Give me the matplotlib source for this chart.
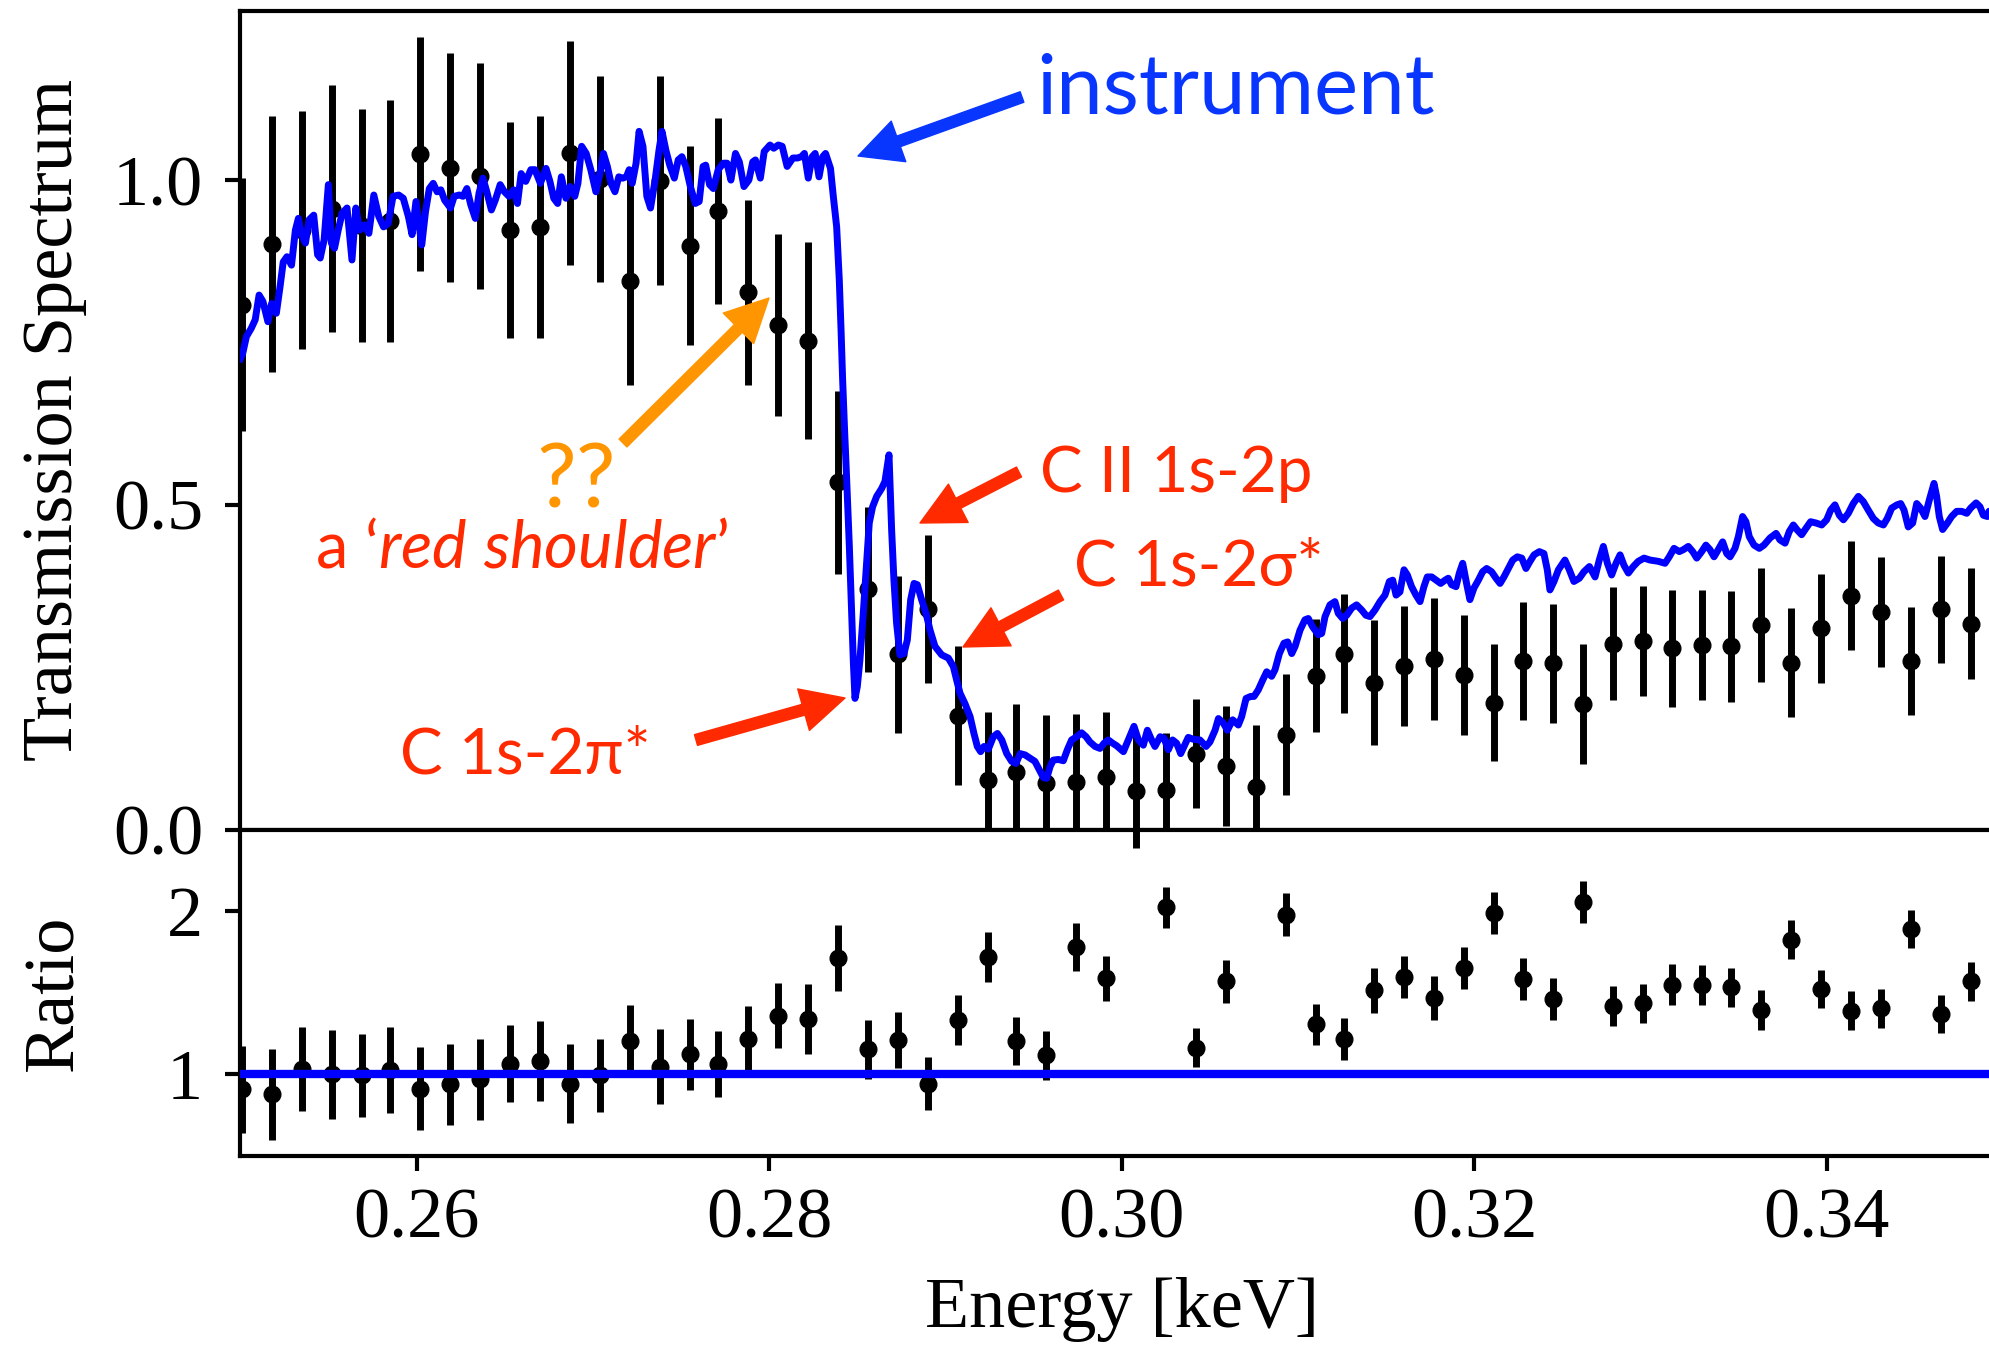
import matplotlib
matplotlib.use('Agg')
import matplotlib.pyplot as plt

plt.rcParams['font.family'] = ['Liberation Serif', 'DejaVu Serif']
plt.rcParams['mathtext.fontset'] = 'custom'
plt.rcParams['mathtext.it'] = 'Lato:italic'
plt.rcParams['mathtext.rm'] = 'Lato'

# ---------------- data ----------------
energy = [0.2501, 0.2518, 0.2535, 0.2552, 0.2569, 0.2585, 0.2602, 0.2619, 0.2636, 0.2653,
          0.2670, 0.2687, 0.2704, 0.2721, 0.2738, 0.2755, 0.2771, 0.2788, 0.2805, 0.2822,
          0.2839, 0.2856, 0.2873, 0.2890, 0.2907, 0.2924, 0.2940, 0.2957, 0.2974, 0.2991,
          0.3008, 0.3025, 0.3042, 0.3059, 0.3076, 0.3093, 0.3110, 0.3126, 0.3143, 0.3160,
          0.3177, 0.3194, 0.3211, 0.3228, 0.3245, 0.3262, 0.3279, 0.3296, 0.3312, 0.3329,
          0.3346, 0.3363, 0.3380, 0.3397, 0.3414, 0.3431, 0.3448, 0.3465, 0.3482]

trans = [0.808, 0.902, 0.923, 0.956, 0.930, 0.937, 1.040, 1.019, 1.007, 0.923,
         0.928, 1.042, 1.002, 0.844, 0.999, 0.899, 0.952, 0.827, 0.777, 0.753,
         0.535, 0.370, 0.270, 0.340, 0.175, 0.076, 0.089, 0.071, 0.074, 0.081,
         0.060, 0.061, 0.117, 0.098, 0.065, 0.146, 0.237, 0.271, 0.226, 0.252,
         0.263, 0.238, 0.195, 0.260, 0.256, 0.193, 0.286, 0.290, 0.279, 0.284,
         0.282, 0.315, 0.257, 0.310, 0.360, 0.335, 0.259, 0.339, 0.317]

trans_err = [0.195, 0.197, 0.183, 0.190, 0.180, 0.186, 0.180, 0.176, 0.174, 0.166,
             0.171, 0.172, 0.159, 0.159, 0.161, 0.153, 0.143, 0.143, 0.140, 0.151,
             0.141, 0.127, 0.121, 0.114, 0.107, 0.105, 0.104, 0.106, 0.104, 0.100,
             0.087, 0.088, 0.084, 0.092, 0.096, 0.093, 0.087, 0.091, 0.096, 0.092,
             0.094, 0.093, 0.090, 0.091, 0.092, 0.092, 0.087, 0.085, 0.090, 0.085,
             0.086, 0.087, 0.084, 0.084, 0.084, 0.084, 0.083, 0.083, 0.085]

ratio = [0.908, 0.877, 1.035, 1.000, 0.994, 1.027, 0.912, 0.939, 0.969, 1.066,
         1.082, 0.943, 0.994, 1.205, 1.047, 1.123, 1.062, 1.215, 1.358, 1.338,
         1.711, 1.154, 1.209, 0.943, 1.334, 1.721, 1.205, 1.117, 1.782, 1.590,
         2.600, 2.025, 1.164, 1.570, 2.850, 1.979, 1.307, 1.215, 1.516, 1.598,
         1.467, 1.652, 1.988, 1.584, 1.461, 2.055, 1.420, 1.435, 1.549, 1.547,
         1.533, 1.393, 1.826, 1.522, 1.389, 1.406, 1.891, 1.369, 1.570]

ratio_err = [0.266, 0.279, 0.258, 0.272, 0.256, 0.264, 0.253, 0.249, 0.246, 0.236,
             0.244, 0.243, 0.225, 0.223, 0.229, 0.217, 0.203, 0.202, 0.199, 0.214,
             0.203, 0.180, 0.172, 0.161, 0.151, 0.152, 0.148, 0.150, 0.146, 0.138,
             0.210, 0.125, 0.121, 0.131, 0.250, 0.132, 0.124, 0.129, 0.137, 0.130,
             0.133, 0.131, 0.129, 0.129, 0.130, 0.130, 0.124, 0.120, 0.125, 0.121,
             0.122, 0.122, 0.118, 0.118, 0.119, 0.119, 0.118, 0.118, 0.120]

model_energy = [
    0.25000, 0.25013, 0.25034, 0.25062, 0.25084, 0.25106, 0.25128, 0.25156, 0.25177, 0.25204,
    0.25225, 0.25243, 0.25264, 0.25290, 0.25312, 0.25329, 0.25347, 0.25369, 0.25390, 0.25416,
    0.25438, 0.25453, 0.25475, 0.25499, 0.25516, 0.25534, 0.25555, 0.25577, 0.25605, 0.25633,
    0.25655, 0.25677, 0.25703, 0.25729, 0.25757, 0.25785, 0.25812, 0.25838, 0.25866, 0.25898,
    0.25924, 0.25953, 0.25974, 0.25996, 0.26029, 0.26050, 0.26072, 0.26094, 0.26116, 0.26137,
    0.26159, 0.26192, 0.26213, 0.26242, 0.26263, 0.26285, 0.26307, 0.26333, 0.26354, 0.26376,
    0.26398, 0.26424, 0.26446, 0.26474, 0.26498, 0.26524, 0.26550, 0.26572, 0.26593, 0.26619,
    0.26648, 0.26671, 0.26702, 0.26734, 0.26756, 0.26778, 0.26800, 0.26821, 0.26847, 0.26871,
    0.26897, 0.26915, 0.26936, 0.26962, 0.26988, 0.27017, 0.27038, 0.27060, 0.27082, 0.27103,
    0.27125, 0.27147, 0.27169, 0.27190, 0.27206, 0.27223, 0.27245, 0.27262, 0.27284, 0.27306,
    0.27327, 0.27353, 0.27375, 0.27392, 0.27414, 0.27436, 0.27462, 0.27484, 0.27505, 0.27527,
    0.27553, 0.27581, 0.27603, 0.27625, 0.27640, 0.27662, 0.27683, 0.27711, 0.27740, 0.27761,
    0.27783, 0.27809, 0.27831, 0.27857, 0.27885, 0.27907, 0.27922, 0.27950, 0.27972, 0.28005,
    0.28026, 0.28052, 0.28074, 0.28102, 0.28135, 0.28161, 0.28183, 0.28200, 0.28222, 0.28244,
    0.28261, 0.28283, 0.28304, 0.28320, 0.28348, 0.28364, 0.28383, 0.28398, 0.28408, 0.28417,
    0.28428, 0.28440, 0.28455, 0.28468, 0.28478, 0.28487, 0.28500, 0.28515, 0.28534, 0.28553,
    0.28568, 0.28587, 0.28610, 0.28638, 0.28657, 0.28680, 0.28695, 0.28708, 0.28723, 0.28742,
    0.28765, 0.28784, 0.28803, 0.28822, 0.28841, 0.28865, 0.28890, 0.28913, 0.28941, 0.28979,
    0.29017, 0.29045, 0.29064, 0.29083, 0.29111, 0.29140, 0.29162, 0.29181, 0.29200, 0.29219,
    0.29244, 0.29272, 0.29295, 0.29320, 0.29348, 0.29376, 0.29401, 0.29424, 0.29452, 0.29480,
    0.29508, 0.29533, 0.29556, 0.29575, 0.29594, 0.29612, 0.29641, 0.29669, 0.29692, 0.29716,
    0.29745, 0.29773, 0.29798, 0.29820, 0.29849, 0.29877, 0.29900, 0.29924, 0.29949, 0.29972,
    0.30010, 0.30038, 0.30070, 0.30095, 0.30123, 0.30146, 0.30170, 0.30189, 0.30218, 0.30240,
    0.30265, 0.30289, 0.30312, 0.30335, 0.30354, 0.30378, 0.30407, 0.30444, 0.30479, 0.30501,
    0.30530, 0.30549, 0.30577, 0.30600, 0.30630, 0.30662, 0.30681, 0.30706, 0.30732, 0.30751,
    0.30775, 0.30800, 0.30823, 0.30851, 0.30870, 0.30895, 0.30921, 0.30942, 0.30965, 0.30984,
    0.31012, 0.31040, 0.31059, 0.31084, 0.31116, 0.31135, 0.31154, 0.31182, 0.31210, 0.31229,
    0.31254, 0.31277, 0.31305, 0.31333, 0.31362, 0.31386, 0.31409, 0.31437, 0.31466, 0.31494,
    0.31519, 0.31538, 0.31557, 0.31579, 0.31602, 0.31621, 0.31645, 0.31670, 0.31693, 0.31715,
    0.31734, 0.31759, 0.31784, 0.31810, 0.31835, 0.31853, 0.31872, 0.31897, 0.31916, 0.31935,
    0.31957, 0.31976, 0.31999, 0.32024, 0.32048, 0.32071, 0.32099, 0.32124, 0.32147, 0.32169,
    0.32194, 0.32219, 0.32245, 0.32270, 0.32294, 0.32317, 0.32340, 0.32370, 0.32396, 0.32415,
    0.32430, 0.32453, 0.32478, 0.32515, 0.32540, 0.32566, 0.32597, 0.32623, 0.32654, 0.32686,
    0.32710, 0.32733, 0.32756, 0.32780, 0.32805, 0.32828, 0.32850, 0.32875, 0.32903, 0.32931,
    0.32964, 0.32998, 0.33045, 0.33083, 0.33107, 0.33134, 0.33164, 0.33187, 0.33215, 0.33240,
    0.33263, 0.33291, 0.33315, 0.33338, 0.33361, 0.33385, 0.33410, 0.33433, 0.33452, 0.33480,
    0.33499, 0.33523, 0.33542, 0.33561, 0.33588, 0.33618, 0.33644, 0.33679, 0.33713, 0.33735,
    0.33764, 0.33788, 0.33811, 0.33834, 0.33858, 0.33883, 0.33909, 0.33940, 0.33972, 0.34000,
    0.34023, 0.34047, 0.34072, 0.34095, 0.34123, 0.34151, 0.34180, 0.34208, 0.34236, 0.34265,
    0.34293, 0.34322, 0.34344, 0.34369, 0.34399, 0.34420, 0.34439, 0.34463, 0.34488, 0.34511,
    0.34533, 0.34558, 0.34583, 0.34609, 0.34624, 0.34639, 0.34658, 0.34685, 0.34709, 0.34738,
    0.34766, 0.34795, 0.34817, 0.34848, 0.34870, 0.34889, 0.34912, 0.34921, 0.34950]

model_trans = [
    0.725, 0.733, 0.759, 0.772, 0.785, 0.823, 0.813, 0.782, 0.810, 0.795,
    0.836, 0.874, 0.882, 0.869, 0.923, 0.941, 0.916, 0.903, 0.939, 0.946,
    0.885, 0.880, 0.908, 0.993, 0.903, 0.895, 0.923, 0.949, 0.957, 0.877,
    0.957, 0.923, 0.931, 0.918, 0.977, 0.944, 0.928, 0.933, 0.975, 0.977,
    0.972, 0.944, 0.916, 0.967, 0.900, 0.951, 0.987, 0.995, 0.982, 0.985,
    0.969, 0.957, 0.975, 0.977, 0.975, 0.987, 0.962, 0.941, 0.980, 1.003,
    0.982, 0.954, 0.969, 0.993, 0.982, 0.975, 0.985, 0.964, 1.010, 0.998,
    1.016, 1.016, 0.995, 1.018, 0.998, 0.972, 0.964, 1.005, 0.972, 0.990,
    0.975, 0.995, 1.052, 1.041, 1.016, 0.982, 1.008, 1.041, 1.021, 0.995,
    0.982, 1.005, 1.003, 1.005, 1.016, 0.995, 1.026, 1.075, 1.052, 0.975,
    0.957, 1.000, 1.046, 1.075, 1.046, 1.023, 1.003, 1.031, 1.036, 1.021,
    0.990, 0.964, 0.967, 1.021, 1.023, 0.993, 0.987, 1.016, 1.026, 1.026,
    1.000, 1.041, 1.028, 0.990, 1.000, 1.028, 1.031, 1.003, 1.044, 1.054,
    1.049, 1.054, 1.052, 1.021, 1.034, 1.034, 1.036, 1.041, 1.003, 1.036,
    1.041, 1.005, 1.036, 1.041, 1.018, 0.975, 0.928, 0.846, 0.769, 0.692,
    0.615, 0.538, 0.436, 0.333, 0.256, 0.202, 0.220, 0.261, 0.333, 0.410,
    0.472, 0.497, 0.513, 0.525, 0.536, 0.577, 0.461, 0.384, 0.318, 0.269,
    0.271, 0.292, 0.354, 0.379, 0.377, 0.354, 0.333, 0.307, 0.282, 0.269,
    0.264, 0.251, 0.230, 0.210, 0.194, 0.174, 0.148, 0.128, 0.120, 0.128,
    0.124, 0.143, 0.148, 0.138, 0.117, 0.105, 0.102, 0.117, 0.115, 0.110,
    0.105, 0.092, 0.080, 0.079, 0.097, 0.107, 0.108, 0.106, 0.123, 0.138,
    0.143, 0.149, 0.143, 0.135, 0.128, 0.125, 0.133, 0.138, 0.133, 0.129,
    0.120, 0.138, 0.159, 0.138, 0.130, 0.153, 0.138, 0.128, 0.143, 0.141,
    0.123, 0.138, 0.133, 0.117, 0.128, 0.142, 0.139, 0.138, 0.128, 0.135,
    0.153, 0.171, 0.164, 0.153, 0.169, 0.161, 0.174, 0.202, 0.205, 0.205,
    0.215, 0.230, 0.243, 0.236, 0.246, 0.271, 0.287, 0.289, 0.271, 0.282,
    0.307, 0.323, 0.325, 0.312, 0.300, 0.302, 0.328, 0.346, 0.351, 0.333,
    0.325, 0.330, 0.341, 0.346, 0.338, 0.330, 0.328, 0.338, 0.351, 0.361,
    0.382, 0.384, 0.361, 0.366, 0.400, 0.392, 0.374, 0.361, 0.351, 0.374,
    0.389, 0.389, 0.384, 0.379, 0.384, 0.387, 0.377, 0.374, 0.395, 0.410,
    0.379, 0.354, 0.372, 0.384, 0.397, 0.402, 0.397, 0.387, 0.379, 0.389,
    0.402, 0.415, 0.420, 0.418, 0.402, 0.413, 0.423, 0.428, 0.425, 0.400,
    0.369, 0.382, 0.400, 0.415, 0.400, 0.382, 0.387, 0.397, 0.405, 0.389,
    0.415, 0.436, 0.410, 0.392, 0.410, 0.423, 0.407, 0.395, 0.405, 0.413,
    0.418, 0.415, 0.413, 0.410, 0.420, 0.433, 0.428, 0.431, 0.436, 0.428,
    0.418, 0.428, 0.438, 0.431, 0.420, 0.431, 0.443, 0.425, 0.420, 0.433,
    0.451, 0.482, 0.474, 0.451, 0.438, 0.433, 0.438, 0.449, 0.456, 0.446,
    0.441, 0.459, 0.469, 0.461, 0.454, 0.464, 0.474, 0.472, 0.469, 0.477,
    0.492, 0.500, 0.484, 0.477, 0.487, 0.502, 0.513, 0.505, 0.492, 0.479,
    0.472, 0.469, 0.479, 0.495, 0.500, 0.502, 0.492, 0.466, 0.472, 0.502,
    0.495, 0.482, 0.508, 0.533, 0.513, 0.482, 0.462, 0.472, 0.482, 0.490,
    0.490, 0.487, 0.495, 0.503, 0.497, 0.484, 0.482, 0.490, 0.490]

xticks = [0.26, 0.28, 0.30, 0.32, 0.34]
xtick_labels = ['0.26', '0.28', '0.30', '0.32', '0.34']
yticks_top = [0.0, 0.5, 1.0]
ytick_labels_top = ['0.0', '0.5', '1.0']
yticks_bot = [1, 2]
ytick_labels_bot = ['1', '2']

# ---------------- figure ----------------
W, H = 1989, 1348
fig = plt.figure(figsize=(W / 100, H / 100), dpi=100)
ax1 = fig.add_axes([240.4 / W, 1 - 829.6 / H, 1762.5 / W, 818.4 / H])
ax2 = fig.add_axes([240.4 / W, 1 - 1156.0 / H, 1762.5 / W, 326.4 / H], sharex=ax1)

FS = 52
for ax in (ax1, ax2):
    for s in ax.spines.values():
        s.set_linewidth(3)
    ax.tick_params(length=10.8, width=3, labelsize=FS, pad=12)
ax1.tick_params(axis='y', pad=16)
ax2.tick_params(axis='y', pad=16)

ax1.errorbar(energy, trans, yerr=trans_err, fmt='o', color='k', ms=12,
             elinewidth=5, capsize=0, zorder=2)
ax1.plot(model_energy, model_trans, color='#0000ff', lw=5, zorder=3)

ax2.axhline(1.0, color='#0000ff', lw=6, zorder=3)
ax2.errorbar(energy, ratio, yerr=ratio_err, fmt='o', color='k', ms=12,
             elinewidth=5, capsize=0, zorder=2)

ax1.set_xlim(0.25, 0.35)
ax1.set_ylim(0.0, 1.26)
ax2.set_ylim(0.5, 2.5)
ax1.tick_params(axis='x', bottom=False, labelbottom=False)
ax1.set_yticks(yticks_top)
ax1.set_yticklabels(ytick_labels_top)
ax2.set_yticks(yticks_bot)
ax2.set_yticklabels(ytick_labels_bot)
ax2.set_xticks(xticks)
ax2.set_xticklabels(xtick_labels)

ax1.set_ylabel('Transmission Spectrum', fontsize=FS)
ax2.set_ylabel('Ratio', fontsize=FS)
ax2.set_xlabel('Energy [keV]', fontsize=FS)
ax1.yaxis.set_label_coords(-0.0870, 0.5)
ax2.yaxis.set_label_coords(-0.0870, 0.5)
ax2.xaxis.set_label_coords(0.5, -0.37)

# ---------------- annotations ----------------
SANS = ['Lato', 'Open Sans', 'DejaVu Sans']
BLUE = '#0836ff'
RED = '#ff2a00'
ORANGE = '#ff9500'


def P(x, y):
    return (x, H - y)


def label(x, y, s, color, size):
    fig.text(x / W, 1 - y / H, s, ha='left', va='baseline', color=color,
             fontsize=size, family=SANS)


def arrow(tail, tip, color):
    ax1.annotate('', xy=P(*tip), xycoords='figure pixels',
                 xytext=P(*tail), textcoords='figure pixels',
                 arrowprops=dict(width=8, headwidth=31, headlength=31,
                                 color=color, shrink=0.0),
                 annotation_clip=False)


label(1036, 113, 'instrument', BLUE, 60)
arrow((1022, 97), (858, 156), BLUE)

label(536, 507, '??', ORANGE, 64)
arrow((623, 443), (769, 298), ORANGE)
label(315, 568, 'a ‘$\\mathit{red\\ shoulder}$’', RED, 47)

label(1040, 492, 'C II 1s-2p', RED, 46)
arrow((1019, 472), (920, 523), RED)

label(1074, 585, 'C 1s-2σ*', RED, 46)
arrow((1061, 595), (963, 647), RED)

label(400, 774, 'C 1s-2π*', RED, 46)
arrow((696, 740), (845, 698), RED)

fig.savefig('out.png', dpi=100)
